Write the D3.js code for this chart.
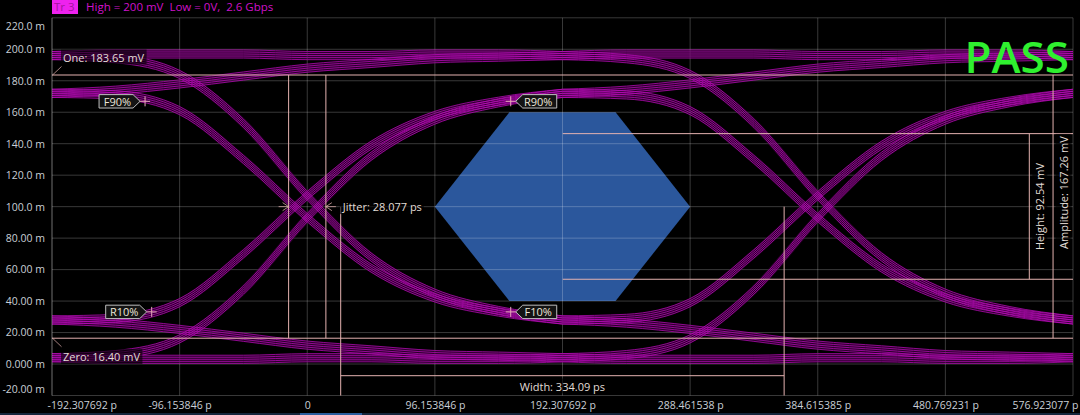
<!DOCTYPE html>
<html><head><meta charset="utf-8">
<script src="https://cdn.jsdelivr.net/npm/d3@7"></script>
<style>
html,body{margin:0;padding:0;background:#000;}
svg{display:block;}
text{font-family:"Open Sans","Segoe UI",Arial,sans-serif;}
</style></head><body>
<svg id="chart" width="1080" height="415"></svg>
<script>
// ---------------- data ----------------
const xTickValues = [-192.307692, -96.153846, 0, 96.153846, 192.307692, 288.461538, 384.615385, 480.769231, 576.923077];
const xTickLabels = ["-192.307692 p","-96.153846 p","0","96.153846 p","192.307692 p","288.461538 p","384.615385 p","480.769231 p","576.923077 p"];
const yTickValues = [220,200,180,160,140,120,100,80,60,40,20,0,-20];
const yTickLabels = ["220.0 m","200.0 m","180.0 m","160.0 m","140.0 m","120.0 m","100.0 m","80.00 m","60.00 m","40.00 m","20.00 m","0.000 m","-20.00 m"];

// eye traces: one bit-window (centre of bit n-1 -> centre of bit n), in ps relative to the crossing
const relTimes = [-192.308, -144.231, -96.154, -48.077, 0, 48.077, 96.154, 144.231, 192.308];
const crossingTimes = [0, 384.615385];
const riseInner      = [28, 29, 39, 70, 107, 139, 158, 167, 172];
const riseOuter      = [4, 6, 16, 47, 93, 132, 155, 166, 172];
const fallInner      = [172, 171, 161, 130, 93, 61, 42, 33, 28];
const fallOuter      = [196, 194, 184, 153, 107, 68, 45, 34, 28];
const holdHighRising = [172, 174, 178, 183, 188, 191, 194, 195, 196];
const holdHigh       = [196, 197, 197, 197, 196, 196, 197, 197, 196];
const holdLowFalling = [28, 26, 22, 17, 12, 9, 6, 5, 4];
const holdLow        = [4, 3, 3, 3, 4, 4, 3, 3, 4];
const bundleOffsets  = [-2.6, -1.3, 0, 1.3, 2.6];

// mask hexagon (ps, mV)
const maskT = [96.154, 152.3, 232.3, 288.462, 232.3, 152.3];
const maskV = [100, 160, 160, 100, 40, 40];

// measurements
const oneLevel = 183.65, zeroLevel = 16.40, amplitudeMv = 167.26;
const jitterPs = 28.077, crossingLevel = 100, crossingTime = 0;
const eyeWidthStart = 25.2, eyeWidthPs = 334.09;
const eyeHeightTop = 146.4, eyeHeightMv = 92.54;
const heightStartT = 192.5, heightLineT = 544.0, amplitudeLineT = 561.9;

// edge markers
const markerNames = ["F90%","R10%","R90%","F10%"];
const markerT = [-122.2, -117.2, 153.3, 153.3];
const markerV = [166.93, 33.13, 166.93, 33.13];
const markerSide = ["left","left","right","right"];

const headerTag = "Tr 3";
const headerText = "High = 200 mV  Low = 0V,  2.6 Gbps";
const verdict = "PASS";

// ---------------- drawing ----------------
const svg = d3.select("#chart");
const W = 1080, H = 415;
const x = d3.scaleLinear().domain([-192.307692, 576.923077]).range([52, 1073]);
const y = d3.scaleLinear().domain([-20, 220]).range([395.5, 17.8]);
const pL = x.range()[0], pR = x.range()[1], pT = y.range()[1], pB = y.range()[0];

svg.append("rect").attr("width", W).attr("height", H).attr("fill", "#000");

svg.append("defs").append("clipPath").attr("id", "plotclip")
  .append("rect").attr("x", pL).attr("y", pT).attr("width", pR - pL).attr("height", pB - pT);

// mask
svg.append("polygon")
  .attr("points", maskT.map((t, i) => [x(t), y(maskV[i])].join(",")).join(" "))
  .attr("fill", "#2b579c");

// grid
const grid = svg.append("g");
grid.selectAll("line.h").data(yTickValues).join("line")
  .attr("x1", pL).attr("x2", pR).attr("y1", d => y(d)).attr("y2", d => y(d))
  .attr("stroke", "rgba(255,255,255,0.22)").attr("stroke-width", 1);
grid.selectAll("line.v").data(xTickValues).join("line")
  .attr("x1", d => x(d)).attr("x2", d => x(d)).attr("y1", pT).attr("y2", pB)
  .attr("stroke", "rgba(255,255,255,0.22)").attr("stroke-width", 1);

// traces
const traces = svg.append("g").attr("clip-path", "url(#plotclip)");
const line = d3.line().x(d => x(d[0])).y(d => y(d[1])).curve(d3.curveMonotoneX);
const shapes = [riseInner, riseOuter, fallInner, fallOuter, holdHighRising, holdHigh, holdLowFalling, holdLow];
crossingTimes.forEach(c => {
  shapes.forEach(s => {
    const pts = relTimes.map((rt, i) => [c + rt, s[i]]);
    traces.append("path").attr("d", line(pts)).attr("fill", "none")
      .attr("stroke", "#4e004e").attr("stroke-width", 8).attr("stroke-opacity", 0.5);
  });
});
crossingTimes.forEach(c => {
  shapes.forEach(s => {
    bundleOffsets.forEach(o => {
      const pts = relTimes.map((rt, i) => [c + rt, s[i] + o]);
      traces.append("path").attr("d", line(pts)).attr("fill", "none")
        .attr("stroke", "#b80cb8").attr("stroke-width", 0.9).attr("stroke-opacity", 0.85);
    });
  });
});

// measurement lines
const pink = "#e4b2b0";
const meas = svg.append("g").attr("stroke", pink).attr("stroke-width", 1).attr("fill", "none");
meas.append("line").attr("x1", pL).attr("x2", pR).attr("y1", y(oneLevel)).attr("y2", y(oneLevel));
meas.append("line").attr("x1", pL).attr("x2", pR).attr("y1", y(zeroLevel)).attr("y2", y(zeroLevel));
meas.append("line").attr("x1", pL + 0.5).attr("x2", pL + 9.5).attr("y1", y(oneLevel)).attr("y2", y(oneLevel) - 8.5).attr("stroke-opacity", 0.7);
meas.append("line").attr("x1", pL + 0.5).attr("x2", pL + 9.5).attr("y1", y(zeroLevel)).attr("y2", y(zeroLevel) + 8.5).attr("stroke-opacity", 0.7);
const jl = x(crossingTime - jitterPs / 2), jr = x(crossingTime + jitterPs / 2), jy = y(crossingLevel);
[jl, jr].forEach(xx => meas.append("line").attr("x1", xx).attr("x2", xx).attr("y1", y(oneLevel)).attr("y2", y(zeroLevel)));
meas.append("path").attr("d", `M${jl - 10},${jy}H${jl}M${jl - 6},${jy - 4}L${jl},${jy}L${jl - 6},${jy + 4}`).attr("stroke-opacity", 0.75);
meas.append("path").attr("d", `M${jr + 10},${jy}H${jr}M${jr + 6},${jy - 4}L${jr},${jy}L${jr + 6},${jy + 4}`).attr("stroke-opacity", 0.75);
const wl = x(eyeWidthStart), wr = x(eyeWidthStart + eyeWidthPs);
[wl, wr].forEach(xx => meas.append("line").attr("x1", xx).attr("x2", xx).attr("y1", jy).attr("y2", pB));
meas.append("line").attr("x1", wl).attr("x2", wr).attr("y1", 375.7).attr("y2", 375.7);
const ht = y(eyeHeightTop), hb = y(eyeHeightTop - eyeHeightMv);
meas.append("line").attr("x1", x(heightStartT)).attr("x2", pR).attr("y1", ht).attr("y2", ht);
meas.append("line").attr("x1", x(heightStartT)).attr("x2", pR).attr("y1", hb).attr("y2", hb);
meas.append("line").attr("x1", x(heightLineT)).attr("x2", x(heightLineT)).attr("y1", ht).attr("y2", hb);
meas.append("line").attr("x1", x(amplitudeLineT)).attr("x2", x(amplitudeLineT)).attr("y1", y(oneLevel)).attr("y2", y(zeroLevel));

function label(txt, px, py, anchor, rotate) {
  const g = svg.append("g").attr("transform", `translate(${px},${py})${rotate ? " rotate(-90)" : ""}`);
  const bg = g.append("rect").attr("fill", "rgba(0,0,0,0.6)");
  const t = g.append("text").attr("fill", "#e2ddd6").attr("font-size", 11).attr("text-anchor", anchor)
    .attr("dominant-baseline", "central").text(txt);
  const b = t.node().getBBox();
  bg.attr("x", b.x - 2).attr("y", b.y).attr("width", b.width + 4).attr("height", b.height);
  return g;
}
label(`One: ${oneLevel.toFixed(2)} mV`, 63, 57, "start");
label(`Zero: ${zeroLevel.toFixed(2)} mV`, 63, 356.5, "start");
label(`Jitter: ${jitterPs.toFixed(3)} ps`, wl + 2, jy, "start");
label(`Width: ${eyeWidthPs.toFixed(2)} ps`, (wl + wr) / 2, 386, "middle");
label(`Height: ${eyeHeightMv.toFixed(2)} mV`, x(heightLineT) + 10.5, (ht + hb) / 2, "middle", true);
label(`Amplitude: ${amplitudeMv.toFixed(2)} mV`, x(amplitudeLineT) + 10, (y(oneLevel) + y(zeroLevel)) / 2 - 14, "middle", true);

markerNames.forEach((name, i) => {
  const cx = x(markerT[i]), cy = y(markerV[i]);
  const g = svg.append("g");
  g.append("path").attr("d", `M${cx - 5},${cy}H${cx + 5}M${cx},${cy - 5}V${cy + 5}`)
    .attr("stroke", "#e7a9b9").attr("stroke-width", 1);
  const s = markerSide[i] === "left" ? -1 : 1;
  const tip = cx + s * 5, r0 = cx + s * 12, r1 = cx + s * 46, h = 6.7;
  g.append("path").attr("d", `M${tip},${cy}L${r0},${cy - h}L${r1},${cy - h}L${r1},${cy + h}L${r0},${cy + h}Z`)
    .attr("fill", "#141414").attr("stroke", "#bdbdbd").attr("stroke-width", 1);
  g.append("text").attr("x", (r0 + r1) / 2 - s * 1.5).attr("y", cy).attr("dominant-baseline", "central")
    .attr("text-anchor", "middle").attr("font-size", 11).attr("fill", "#ece6da").text(name);
});

const xAxis = svg.append("g").attr("transform", `translate(0,${pB})`)
  .call(d3.axisBottom(x).tickValues(xTickValues).tickFormat((d, i) => xTickLabels[i]).tickSize(0).tickPadding(6));
xAxis.select(".domain").remove();
xAxis.selectAll("text").attr("fill", "#c9cfd6").attr("font-size", 10.5)
  .attr("font-family", '"Open Sans","Segoe UI",Arial,sans-serif');
xAxis.selectAll(".tick").filter((d, i) => i === 0).select("text").attr("text-anchor", "start").attr("dx", -5);
xAxis.selectAll(".tick").filter((d, i) => i === xTickValues.length - 1).select("text").attr("text-anchor", "end").attr("dx", 5);

const yAxis = svg.append("g").attr("transform", `translate(${pL},0)`)
  .call(d3.axisLeft(y).tickValues(yTickValues).tickFormat((d, i) => yTickLabels[i]).tickSize(0).tickPadding(7));
yAxis.select(".domain").remove();
yAxis.selectAll("text").attr("fill", "#c9cfd6").attr("font-size", 10.5)
  .attr("font-family", '"Open Sans","Segoe UI",Arial,sans-serif');
yAxis.selectAll(".tick").filter(d => d === 220).select("text").attr("dy", "1.15em");
yAxis.selectAll(".tick").filter(d => d === -20).select("text").attr("dy", "-0.25em");

svg.append("line").attr("x1", pL).attr("x2", pL).attr("y1", pT).attr("y2", pB).attr("stroke", "rgba(255,255,255,0.25)");

svg.append("rect").attr("x", 52).attr("y", 0).attr("width", 26).attr("height", 14).attr("fill", "#ee22ee");
svg.append("text").attr("x", 54).attr("y", 11).attr("font-size", 11.5).attr("fill", "#a3129e").text(headerTag);
svg.append("text").attr("x", 86).attr("y", 11).attr("font-size", 11.5).attr("fill", "#cf12c9")
  .attr("xml:space", "preserve").style("white-space", "pre").text(headerText);

svg.append("text").attr("x", 1069).attr("y", 73).attr("text-anchor", "end").attr("font-size", 44)
  .attr("font-weight", 600).attr("fill", "#2ff02f").text(verdict);

svg.append("rect").attr("x", 0).attr("y", 413).attr("width", W).attr("height", 2).attr("fill", "#15263c");
svg.append("rect").attr("x", 300).attr("y", 413).attr("width", 62).attr("height", 2).attr("fill", "#2a5fa0");
</script>
</body></html>
